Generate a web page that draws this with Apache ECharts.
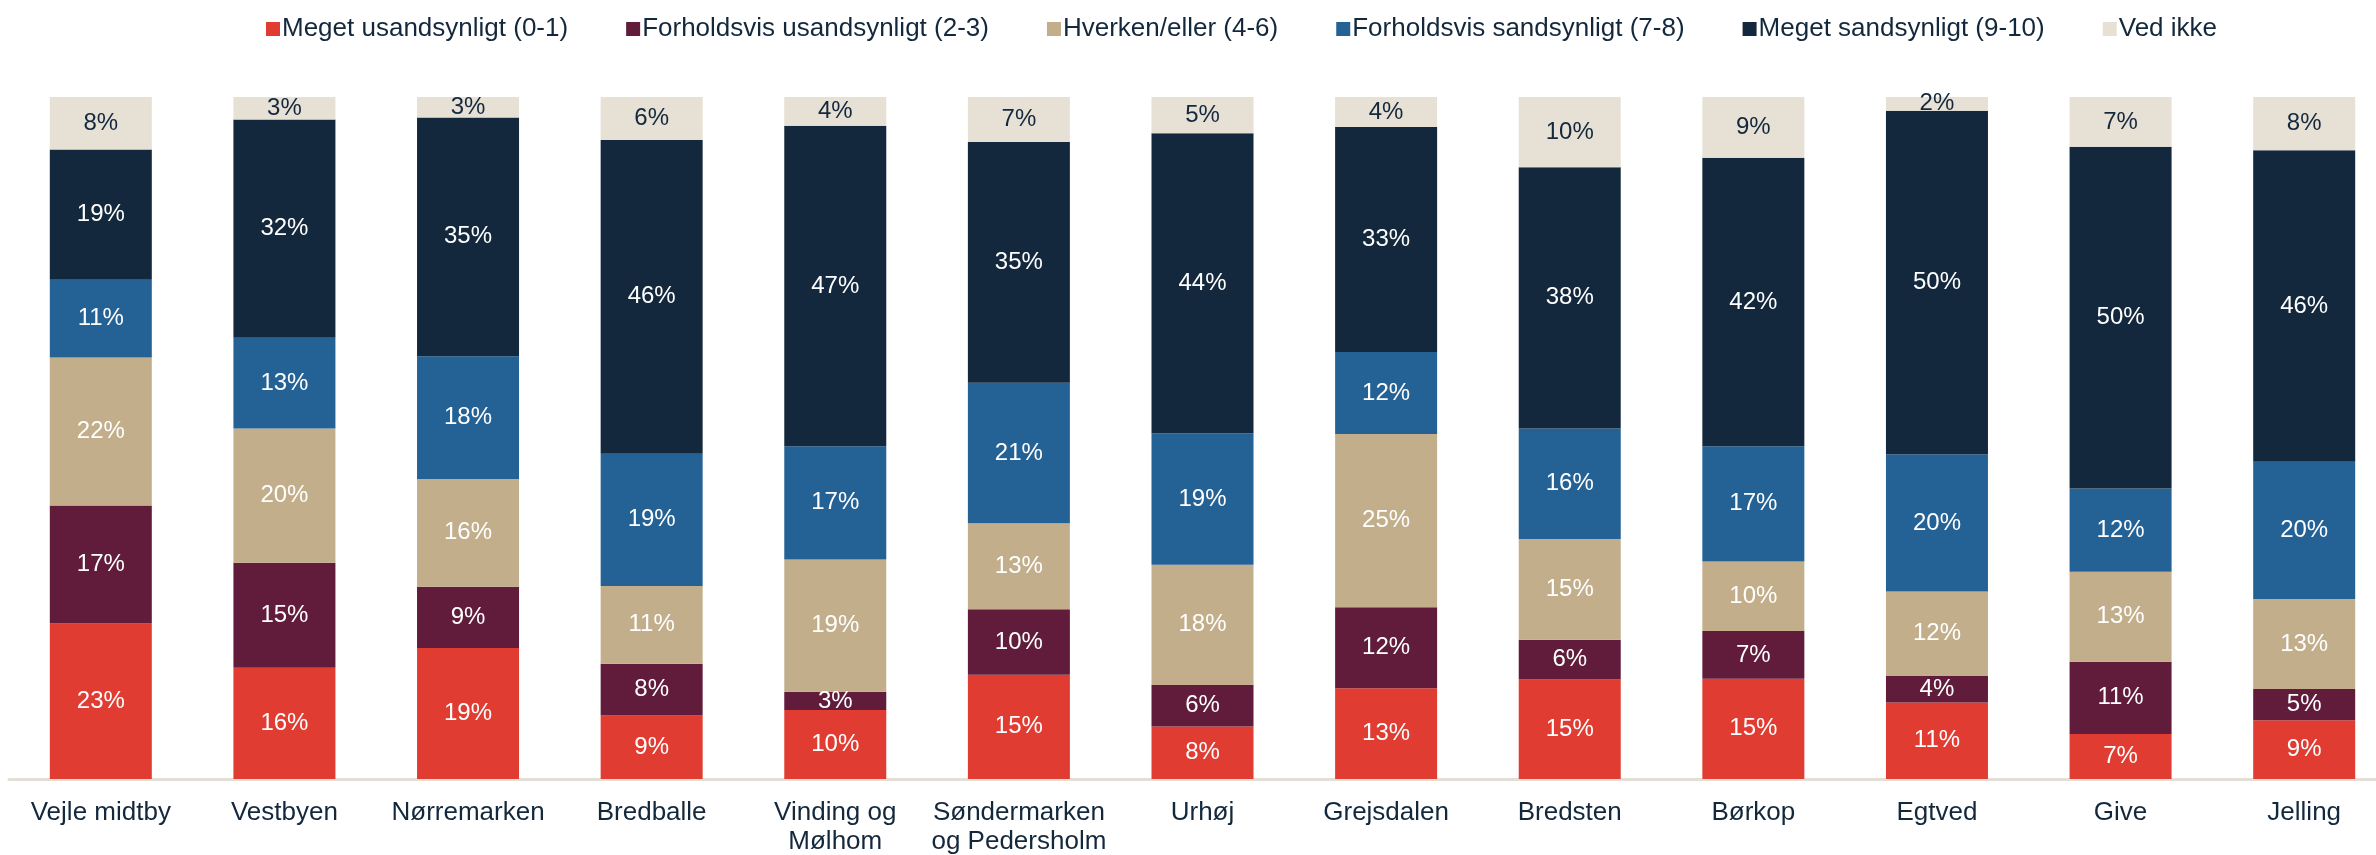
<!DOCTYPE html>
<html>
<head>
<meta charset="utf-8">
<script src="https://cdn.jsdelivr.net/npm/echarts@6/dist/echarts.min.js"></script>
<style>
  html, body { margin: 0; padding: 0; background: #ffffff; }
  #chart { width: 2376px; height: 855px; }
</style>
</head>
<body>
<div id="chart"></div>
<script>
// Areas surveyed
const categories = [
  'Vejle midtby', 'Vestbyen', 'Nørremarken', 'Bredballe', 'Vinding og\nMølhom',
  'Søndermarken\nog Pedersholm', 'Urhøj', 'Grejsdalen', 'Bredsten', 'Børkop',
  'Egtved', 'Give', 'Jelling'
];

// Answer groups (legend order, bottom to top in the stack)
const seriesNames = [
  'Meget usandsynligt (0-1)', 'Forholdsvis usandsynligt (2-3)', 'Hverken/eller (4-6)',
  'Forholdsvis sandsynligt (7-8)', 'Meget sandsynligt (9-10)', 'Ved ikke'
];

// Share of respondents per area, in percent
const megetUsandsynligt     = [22.8, 16.3, 19.2, 9.3, 10.1, 15.3, 7.7, 13.3, 14.6, 14.7, 11.2, 6.6, 8.6];
const forholdsvisUsandsynligt = [17.3, 15.4, 9.0, 7.6, 2.7, 9.6, 6.1, 11.9, 5.8, 7.0, 3.9, 10.6, 4.6];
const hverkenEller          = [21.7, 19.7, 15.8, 11.4, 19.4, 12.6, 17.6, 25.4, 14.8, 10.2, 12.4, 13.2, 13.2];
const forholdsvisSandsynligt = [11.4, 13.3, 18.0, 19.4, 16.6, 20.6, 19.3, 12.0, 16.2, 16.9, 20.1, 12.2, 20.1];
const megetSandsynligt      = [19.1, 32.0, 35.0, 46.0, 47.0, 35.3, 44.0, 33.0, 38.3, 42.3, 50.4, 50.1, 45.7];
const vedIkke               = [7.7, 3.3, 3.0, 6.3, 4.2, 6.6, 5.3, 4.4, 10.3, 8.9, 2.0, 7.3, 7.8];

const seriesData = [
  megetUsandsynligt, forholdsvisUsandsynligt, hverkenEller,
  forholdsvisSandsynligt, megetSandsynligt, vedIkke
];
const colors = ['#E03C31', '#601C3A', '#C2AE8B', '#246195', '#13283C', '#E6E0D5'];
const labelColors = ['#ffffff', '#ffffff', '#ffffff', '#ffffff', '#ffffff', '#13283C'];

const textColor = '#13283C';
const fontFamily = '"Liberation Sans", Arial, sans-serif';

const chart = echarts.init(document.getElementById('chart'));

chart.setOption({
  backgroundColor: '#ffffff',
  animation: false,
  textStyle: { fontFamily: fontFamily },
  color: colors,
  legend: {
    top: 11,
    left: 261,
    itemWidth: 14,
    itemHeight: 14,
    itemGap: 58,
    icon: 'rect',
    textStyle: { color: textColor, fontSize: 26, fontFamily: fontFamily, padding: [0, 0, 0, -3] },
    data: seriesNames
  },
  // the plot runs slightly past the right edge; keep the layout exactly as given
  grid: { left: 9, right: -20, top: 97, bottom: 76, containLabel: false, outerBoundsMode: 'none' },
  xAxis: {
    type: 'category',
    data: categories,
    axisLine: { show: true, lineStyle: { color: '#E4DFD6', width: 3 } },
    axisTick: { show: false },
    axisLabel: {
      color: textColor,
      fontSize: 26,
      fontFamily: fontFamily,
      margin: 19,
      lineHeight: 29,
      interval: 0
    }
  },
  yAxis: {
    type: 'value',
    min: 0,
    max: 100,
    show: false,
    splitLine: { show: false }
  },
  series: seriesData.map((values, i) => ({
    name: seriesNames[i],
    type: 'bar',
    stack: 'total',
    barWidth: 102,
    data: values,
    itemStyle: { color: colors[i] },
    label: {
      show: true,
      position: 'inside',
      color: labelColors[i],
      fontSize: 24,
      fontFamily: fontFamily,
      formatter: (p) => Math.round(p.value) + '%'
    }
  }))
});
</script>
</body>
</html>
